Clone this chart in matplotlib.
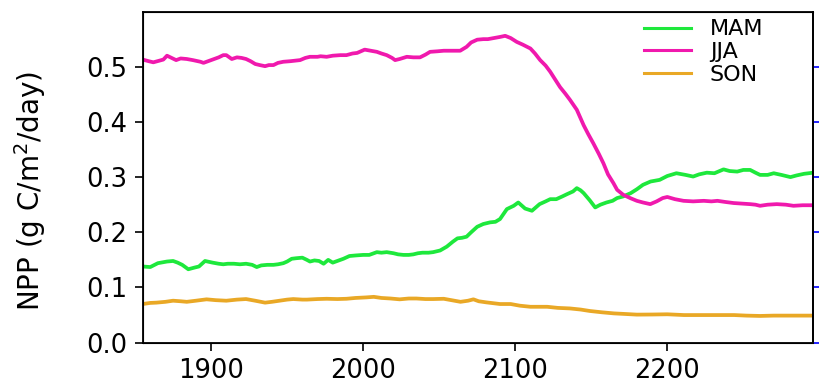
import numpy as np
import matplotlib
matplotlib.use("Agg")
import matplotlib.pyplot as plt

# Seasonal NPP, running means (year, value)
mam_years = [1855, 1860, 1865, 1871, 1875, 1878, 1881, 1885, 1889, 1892, 1896, 1901,
             1905, 1908, 1911, 1915, 1919, 1923, 1927, 1930, 1933, 1937, 1941, 1944,
             1947.5, 1950, 1953, 1956, 1960, 1963, 1965, 1968, 1971, 1974, 1977, 1980,
             1984, 1987, 1991, 1995, 2000, 2004, 2009, 2012, 2015.5, 2020, 2023, 2026.5,
             2030, 2033, 2036, 2039, 2043, 2046, 2050.6, 2055, 2059, 2062, 2065, 2068,
             2071, 2075, 2079, 2083.5, 2087, 2090, 2094.5, 2099, 2102, 2106.5, 2111, 2116,
             2120, 2123, 2127, 2131, 2134, 2138, 2140.5, 2143, 2145, 2149, 2152.6, 2156,
             2160, 2164, 2167, 2171, 2176, 2180, 2184, 2189, 2195, 2200, 2206, 2212,
             2217, 2221, 2226, 2231, 2237, 2241, 2246, 2250, 2254.5, 2258, 2261, 2266,
             2270, 2275, 2281, 2285, 2290, 2296]
mam_npp = [0.138, 0.137, 0.144, 0.147, 0.148, 0.145, 0.141, 0.133, 0.136, 0.138, 0.148, 0.145,
           0.143, 0.142, 0.143, 0.143, 0.142, 0.143, 0.141, 0.137, 0.140, 0.141, 0.141, 0.142,
           0.144, 0.147, 0.152, 0.153, 0.154, 0.150, 0.147, 0.149, 0.148, 0.143, 0.150, 0.145,
           0.149, 0.152, 0.157, 0.158, 0.159, 0.159, 0.164, 0.163, 0.164, 0.162, 0.160, 0.159,
           0.159, 0.160, 0.162, 0.163, 0.163, 0.164, 0.167, 0.174, 0.183, 0.189, 0.190, 0.192,
           0.200, 0.210, 0.215, 0.218, 0.219, 0.224, 0.242, 0.248, 0.254, 0.243, 0.239, 0.251,
           0.256, 0.260, 0.260, 0.265, 0.269, 0.274, 0.280, 0.276, 0.271, 0.258, 0.245, 0.250,
           0.254, 0.257, 0.262, 0.265, 0.271, 0.278, 0.286, 0.292, 0.295, 0.302, 0.307, 0.304,
           0.301, 0.305, 0.308, 0.307, 0.314, 0.311, 0.310, 0.313, 0.313, 0.308, 0.304, 0.304,
           0.307, 0.304, 0.300, 0.303, 0.306, 0.308]

jja_years = [1855, 1859, 1862, 1866, 1868.6, 1871, 1874, 1877, 1880, 1884, 1888, 1893,
             1895, 1898, 1901, 1905, 1908, 1910, 1913.6, 1917, 1920, 1923, 1926, 1929,
             1932, 1935.5, 1938, 1941, 1944, 1947.5, 1952, 1958.5, 1962, 1965, 1970, 1972,
             1976, 1980, 1985, 1989, 1993, 1996, 2001, 2005, 2009, 2012, 2015.5, 2019,
             2021, 2024, 2028.7, 2033, 2037.4, 2041, 2044, 2049, 2053, 2058, 2063.8, 2068,
             2071, 2075, 2079, 2082, 2086, 2090, 2093.4, 2097, 2101, 2105, 2110, 2113,
             2116.4, 2120, 2123, 2126, 2129.5, 2133, 2136, 2140.5, 2145, 2148, 2151.4, 2155,
             2158, 2161, 2164.6, 2167, 2171, 2175.6, 2180, 2184, 2188.8, 2193, 2197, 2200,
             2205, 2210.7, 2217, 2224, 2229, 2233, 2238, 2243.6, 2249, 2254.5, 2258, 2261,
             2266, 2272, 2278, 2283, 2289, 2296]
jja_npp = [0.513, 0.510, 0.508, 0.511, 0.513, 0.520, 0.516, 0.512, 0.515, 0.514, 0.512, 0.509,
           0.507, 0.510, 0.513, 0.517, 0.521, 0.521, 0.514, 0.517, 0.516, 0.514, 0.510, 0.505,
           0.503, 0.501, 0.503, 0.503, 0.507, 0.509, 0.510, 0.512, 0.516, 0.518, 0.518, 0.519,
           0.518, 0.520, 0.521, 0.521, 0.524, 0.525, 0.531, 0.529, 0.527, 0.524, 0.521, 0.516,
           0.512, 0.514, 0.518, 0.517, 0.517, 0.522, 0.527, 0.528, 0.529, 0.529, 0.529, 0.536,
           0.544, 0.549, 0.550, 0.550, 0.552, 0.554, 0.556, 0.552, 0.545, 0.540, 0.533, 0.524,
           0.512, 0.502, 0.491, 0.478, 0.463, 0.451, 0.440, 0.422, 0.394, 0.378, 0.361, 0.342,
           0.325, 0.305, 0.289, 0.277, 0.268, 0.262, 0.257, 0.254, 0.251, 0.256, 0.262, 0.264,
           0.260, 0.257, 0.256, 0.257, 0.256, 0.257, 0.255, 0.253, 0.252, 0.251, 0.250, 0.248,
           0.250, 0.251, 0.250, 0.248, 0.249, 0.249]

son_years = [1855, 1860, 1864, 1870, 1875, 1880, 1884, 1890, 1897, 1903, 1910, 1917,
             1923, 1929, 1935.5, 1940, 1945, 1950, 1954, 1960, 1963, 1970, 1976, 1983,
             1989, 1995, 2002, 2007, 2012, 2018, 2024, 2030, 2035, 2041, 2046, 2053,
             2058, 2064, 2069, 2072.5, 2076, 2081, 2090, 2097, 2103, 2110, 2121, 2128,
             2136, 2143, 2149, 2157, 2165, 2172, 2180, 2190, 2200, 2211, 2222, 2233,
             2244, 2252, 2261, 2270, 2280, 2296]
son_npp = [0.070, 0.072, 0.0725, 0.074, 0.076, 0.075, 0.074, 0.076, 0.0785, 0.077, 0.076, 0.078,
           0.079, 0.076, 0.0725, 0.074, 0.076, 0.078, 0.079, 0.078, 0.078, 0.079, 0.0795, 0.079,
           0.0795, 0.081, 0.082, 0.083, 0.081, 0.080, 0.0785, 0.080, 0.080, 0.079, 0.079, 0.0795,
           0.077, 0.074, 0.076, 0.0785, 0.075, 0.073, 0.070, 0.070, 0.067, 0.065, 0.065, 0.063,
           0.062, 0.060, 0.0574, 0.055, 0.053, 0.052, 0.0508, 0.051, 0.0514, 0.050, 0.050, 0.050,
           0.050, 0.049, 0.0484, 0.049, 0.049, 0.049]

series = [("MAM", mam_years, mam_npp, "#1ee83c"),
          ("JJA", jja_years, jja_npp, "#f019ad"),
          ("SON", son_years, son_npp, "#e9a826")]

x_ticks = [1900, 2000, 2100, 2200]
y_ticks = [0.0, 0.1, 0.2, 0.3, 0.4, 0.5]

fig = plt.figure(figsize=(8.19, 3.85), dpi=100)
ax = fig.add_axes([0.1742, 0.110, 0.8188, 0.860])

for name, yrs, vals, col in series:
    ax.plot(yrs, vals, color=col, lw=2.7, label=name)

ax.set_xlim(1855, 2296)
ax.set_ylim(0, 0.6)
ax.set_xticks(x_ticks)
ax.set_yticks(y_ticks)
ax.tick_params(axis="both", labelsize=18.5, length=6, width=1.2, pad=5, direction="out")
ax.tick_params(axis="y", right=False)
for sp in ax.spines.values():
    sp.set_linewidth(1.3)

# second axis only carries the blue tick marks on the right
ax2 = ax.twinx()
ax2.set_ylim(ax.get_ylim())
ax2.set_yticks(y_ticks)
ax2.tick_params(axis="y", colors="blue", labelright=False, length=6, width=1.2)
ax2.spines["right"].set_color("black")
ax2.spines["right"].set_linewidth(1.3)

fig.text(0.0366, 0.503, "NPP (g C/m$^2$/day)", fontsize=20, rotation=90,
         ha="center", va="center")

leg = ax.legend(loc="upper right", frameon=False, fontsize=16, handlelength=2.1,
                handletextpad=0.85, labelspacing=0.12, borderaxespad=0.0, borderpad=0.35,
                bbox_to_anchor=(0.937, 1.0))
for line in leg.get_lines():
    line.set_linewidth(2.2)

fig.savefig("out.png", dpi=100)
